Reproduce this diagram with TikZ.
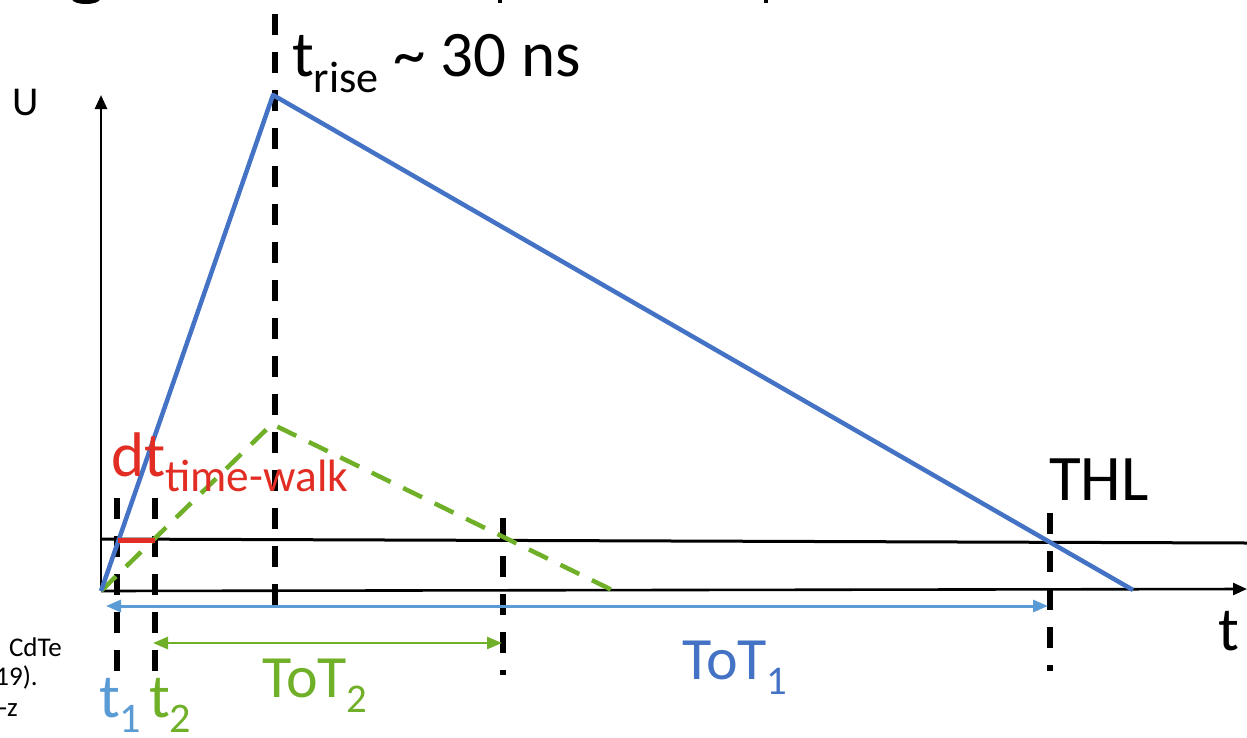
\documentclass[tikz,border=0pt]{standalone}
\usepackage{fontspec}
\setmainfont{Carlito}
\usetikzlibrary{arrows.meta}
\definecolor{pblue}{RGB}{68,114,196}
\definecolor{lblue}{RGB}{91,155,213}
\definecolor{pgreen}{RGB}{112,176,40}
\definecolor{pred}{RGB}{225,45,35}
\newcommand\lowsub[1]{\raisebox{-0.25em}{\scalebox{0.68}{#1}}}
\tikzset{
  lbl/.style={inner sep=0pt, anchor=base west},
  big/.style={font=\fontsize{62}{70}\selectfont},
  axis/.style={line width=2.6pt, -{Triangle[length=14pt,width=12pt]}},
  thl/.style={line width=3pt},
  vdash/.style={line width=5.5pt, dash pattern=on 21pt off 17pt},
  pulse/.style={line width=4.5pt, pblue, line join=round},
  gpulse/.style={line width=4.5pt, pgreen, dash pattern=on 21pt off 14pt},
  totone/.style={line width=3pt, lblue, {Triangle[length=15pt,width=12pt]}-{Triangle[length=15pt,width=12pt]}},
  tottwo/.style={line width=2.6pt, pgreen, {Triangle[length=15pt,width=12pt]}-{Triangle[length=15pt,width=12pt]}},
  frag/.style={inner sep=0pt, anchor=base east}
}
\begin{document}
\begin{tikzpicture}[x=1pt,y=-1pt]
\useasboundingbox (0,0) rectangle (1247,737);
\clip (0,0) rectangle (1247,737);
% cut-off title fragments
\fill (86,-1) ellipse (14 and 5);
\fill (498,0) rectangle (502,3);
\fill (764,0) rectangle (768,3);
% coordinates
\coordinate (O) at (101,591);
\coordinate (Ytop) at (101,95);
\coordinate (Xend) at (1247,589);
\coordinate (THLl) at (101,539);
\coordinate (THLr) at (1247,543);
\coordinate (peak) at (273,95);
\coordinate (bend) at (1133,590);
\coordinate (gpeak) at (272,424);
\coordinate (gend) at (612,590);
\coordinate (r1) at (118,540);
\coordinate (r2) at (155,540);
\coordinate (d1t) at (117,498); \coordinate (d1b) at (117,674);
\coordinate (d2t) at (155,498); \coordinate (d2b) at (155,674);
\coordinate (d3t) at (275,14);  \coordinate (d3b) at (275,605);
\coordinate (d4t) at (503,518); \coordinate (d4b) at (503,675);
\coordinate (d5t) at (1050,513); \coordinate (d5b) at (1050,671);
\coordinate (a1l) at (106,606); \coordinate (a1r) at (1048,606);
\coordinate (a2l) at (153,643); \coordinate (a2r) at (502,643);
% axes and threshold
\draw[thl] (THLl) -- (THLr);
\draw[axis] (O) -- (Ytop);
\draw[axis] (O) -- (Xend);
% dashed markers
\draw[vdash] (d1t) -- (d1b);
\draw[vdash] (d2t) -- (d2b);
\draw[vdash] (d3t) -- (d3b);
\draw[vdash] (d4t) -- (d4b);
\draw[vdash] (d5t) -- (d5b);
% pulses
\draw[gpulse] (O) -- (gpeak) -- (gend);
\draw[pulse] (O) -- (peak) -- (bend);
\draw[line width=5pt, pred] (r1) -- (r2);
% ToT arrows
\draw[totone] (a1l) -- (a1r);
\draw[tottwo] (a2l) -- (a2r);
% labels
\node[lbl, font=\fontsize{65}{70}\selectfont] (trise) at (292,76) {t\lowsub{rise} \char"007E{} 30 ns};
\node[lbl, font=\fontsize{41}{44}\selectfont] (U) at (12,115) {U};
\node[lbl, font=\fontsize{63}{70}\selectfont, pred] (dt) at (111,476) {dt\raisebox{-0.25em}{\scalebox{0.72}{time-walk}}};
\node[lbl, font=\fontsize{65}{70}\selectfont] (THL) at (1049,500) {THL};
\node[lbl, big] (t) at (1218,650) {t};
\node[lbl, font=\fontsize{60}{70}\selectfont, pgreen] (tot2) at (262,697) {ToT\lowsub{2}};
\node[lbl, font=\fontsize{60}{70}\selectfont, pblue] (tot1) at (682,679) {ToT\lowsub{1}};
\node[lbl, big, lblue] (t1) at (99,717) {t\lowsub{1}};
\node[lbl, big, pgreen] (t2) at (149,717) {t\lowsub{2}};
% cut-off side text
\node[frag, font=\fontsize{27}{30}\selectfont] (f1) at (62,656) {CdTe};
\node[frag, font=\fontsize{27}{30}\selectfont] (f2) at (38,685) {19).};
\node[frag, font=\fontsize{27}{30}\selectfont] (f3) at (18,716) {-z};
\end{tikzpicture}
\end{document}
